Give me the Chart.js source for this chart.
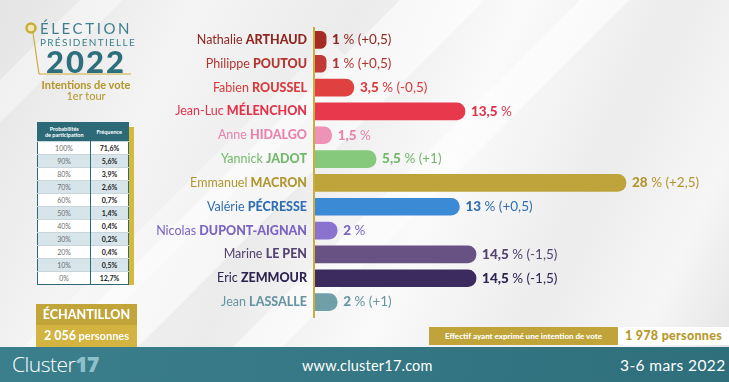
<!DOCTYPE html>
<html lang="fr">
<head>
<meta charset="utf-8">
<script src="https://cdn.jsdelivr.net/npm/chart.js@4.4.1/dist/chart.umd.min.js"></script>
<style>
  html,body{margin:0;padding:0;}
  body{width:729px;height:382px;overflow:hidden;position:relative;font-family:Lato,"Open Sans",sans-serif;
    background:linear-gradient(115deg,#e4e4e5 0%,#f4f4f4 22%,#ebebec 40%,#fafafa 58%,#ececed 75%,#f6f6f6 88%,#e2e2e3 100%);}
  .stripe{position:absolute;background:rgba(255,255,255,0.55);transform:rotate(45deg);transform-origin:0 0;}
  #c{position:absolute;left:0;top:0;z-index:2;}
  .abs{position:absolute;z-index:3;}
  #titleSvg{position:absolute;left:0;top:0;z-index:3;}
  .t1{left:40px;top:20px;width:92px;text-align:center;color:#3d7f8c;font-size:15px;letter-spacing:2.6px;line-height:17px;}
  .t2{left:40px;top:37px;width:92px;text-align:center;color:#3d7f8c;font-size:10px;letter-spacing:1.3px;line-height:11px;}
  .t3{left:38px;top:45px;width:96px;text-align:center;color:#2d6f7d;font-size:31px;font-weight:900;letter-spacing:2px;line-height:32px;}
  .t4{left:30px;top:79px;width:112px;text-align:center;color:#b39627;font-size:11px;font-weight:700;line-height:12px;}
  .t5{left:30px;top:90px;width:112px;text-align:center;color:#b39627;font-size:11px;line-height:11px;}
  #tblShadow{left:42px;top:127px;width:92px;height:158px;background:#d4b93e;}
  table{border-collapse:collapse;position:absolute;left:37px;top:122px;width:92px;z-index:4;background:#fff;border:1px solid #2d6a78;}
  th{background:#2d6a78;color:#fff;font-size:5.5px;font-weight:700;line-height:6.5px;height:18px;padding:0;}
  td{font-size:7px;height:12px;line-height:12px;padding:0;text-align:center;border-top:1px solid #c9d7dc;}
  td.p{color:#6d6d6d;border-right:1px solid #2d6a78;width:52px;}
  td.f{color:#222;font-weight:700;}
  tr.alt td{background:#d7e5ea;}
  .ech1{left:36px;top:304px;width:101px;height:21px;background:#c2a538;color:#fff;font-weight:900;font-size:12.5px;text-align:center;line-height:21px;}
  .ech2{left:36px;top:325px;width:101px;height:22px;background:#d4b440;color:#fff;font-weight:700;font-size:11px;text-align:center;line-height:22px;}
  .ech2 b{font-size:12.5px;font-weight:900;}
  .eff1{left:429px;top:327px;width:189px;height:18px;background:#c0a43a;color:#fff;font-weight:900;font-size:8px;text-align:center;line-height:18px;}
  .eff2{left:618px;top:327px;width:111px;height:18px;background:#fff;color:#b8992b;font-weight:900;font-size:12.5px;text-align:center;line-height:18px;letter-spacing:0.3px;}
  .footer{left:0;top:347px;width:729px;height:35px;background:linear-gradient(90deg,#3c7f8c 0%,#357784 50%,#2f6f7c 100%);}
  .logo{left:12px;top:350px;color:#fff;font-size:21px;font-weight:300;line-height:28px;font-family:"Open Sans",sans-serif;letter-spacing:-0.5px;}
  .logo b{color:#8ec2cb;font-weight:800;}
  .www{left:302px;top:356px;color:#fff;font-size:14.5px;line-height:20px;letter-spacing:0.2px;}
  .date{left:620px;top:355px;color:#fff;font-size:15.5px;line-height:20px;letter-spacing:0.4px;}
</style>
</head>
<body>
<div class="stripe" style="left:520px;top:-120px;width:60px;height:640px;"></div>
<div class="stripe" style="left:640px;top:-60px;width:35px;height:640px;"></div>
<div class="stripe" style="left:330px;top:40px;width:40px;height:500px;background:rgba(255,255,255,0.35)"></div>
<div class="stripe" style="left:120px;top:-40px;width:30px;height:400px;background:rgba(255,255,255,0.4)"></div>

<svg id="titleSvg" width="150" height="110">
  <line x1="33" y1="33" x2="39" y2="74" stroke="#c9ae3c" stroke-width="1.2"/>
  <line x1="39" y1="74" x2="131" y2="74" stroke="#c9ae3c" stroke-width="1.2"/>
  <circle cx="31" cy="28" r="4.5" fill="#f3e7b5" stroke="#c9ae3c" stroke-width="2.5"/>
</svg>
<div class="abs t1">ÉLECTION</div>
<div class="abs t2">PRÉSIDENTIELLE</div>
<div class="abs t3">2022</div>
<div class="abs t4">Intentions de vote</div>
<div class="abs t5">1er tour</div>

<div class="abs" id="tblShadow"></div>
<table id="tbl"></table>

<div class="abs ech1">ÉCHANTILLON</div>
<div class="abs ech2"><b>2 056</b> personnes</div>
<div class="abs eff1">Effectif ayant exprimé une intention de vote</div>
<div class="abs eff2">1 978 personnes</div>

<div class="abs footer"></div>
<div class="abs logo">Cluster<b>17</b></div>
<div class="abs www">www.cluster17.com</div>
<div class="abs date">3-6 mars 2022</div>

<canvas id="c" width="729" height="382"></canvas>

<script>
const firstNames = ["Nathalie","Philippe","Fabien","Jean-Luc","Anne","Yannick","Emmanuel","Valérie","Nicolas","Marine","Eric","Jean"];
const lastNames  = ["ARTHAUD","POUTOU","ROUSSEL","MÉLENCHON","HIDALGO","JADOT","MACRON","PÉCRESSE","DUPONT-AIGNAN","LE PEN","ZEMMOUR","LASSALLE"];
const values     = [1, 1, 3.5, 13.5, 1.5, 5.5, 28, 13, 2, 14.5, 14.5, 2];
const changes    = ["+0,5","+0,5","-0,5","","","+1","+2,5","+0,5","","-1,5","-1,5","+1"];
const barColors  = ["#a52c24","#c23a35","#e0403f","#e8384c","#ef92b7","#86c97c","#bea43b","#3b8ad5","#8a72cf","#675283","#3c2b5e","#6f9fa7"];
const textColors = ["#8e2720","#b13430","#d83b3b","#e1344a","#e882ac","#72b96a","#b0962f","#2f6fb2","#7b63c2","#54436f","#2f2350","#6796a0"];

const probabilities = ["100%","90%","80%","70%","60%","50%","40%","30%","20%","10%","0%"];
const frequencies   = ["71,6%","5,6%","3,9%","2,6%","0,7%","1,4%","0,4%","0,2%","0,4%","0,5%","12,7%"];

// table
(function(){
  const t = document.getElementById('tbl');
  let h = '<tr><th>Probabilités<br>de participation</th><th>Fréquence</th></tr>';
  probabilities.forEach((p,i)=>{
    h += '<tr class="'+(i%2===1?'alt':'')+'"><td class="p">'+p+'</td><td class="f">'+frequencies[i]+'</td></tr>';
  });
  t.innerHTML = h;
})();

const fmt = v => String(v).replace('.', ',');

const labelsPlugin = {
  id: 'labels',
  afterDatasetsDraw(chart){
    const ctx = chart.ctx;
    const meta = chart.getDatasetMeta(0);
    const area = chart.chartArea;
    ctx.save();
    // axis line
    ctx.strokeStyle = '#c9ae3c';
    ctx.lineWidth = 2;
    ctx.beginPath();
    ctx.moveTo(area.left - 1, 27);
    ctx.lineTo(area.left - 1, 318);
    ctx.stroke();
    ctx.textBaseline = 'middle';
    meta.data.forEach((bar, i) => {
      const y = bar.y;
      // category label
      const rightX = area.left - 8;
      ctx.fillStyle = textColors[i];
      ctx.font = '900 12.5px Lato';
      const lnW = ctx.measureText(lastNames[i]).width;
      ctx.textAlign = 'right';
      ctx.fillText(lastNames[i], rightX, y);
      ctx.font = '400 12.5px Lato';
      ctx.fillText(firstNames[i] + ' ', rightX - lnW, y);
      // value label
      let x = bar.x + 6;
      ctx.textAlign = 'left';
      ctx.font = '900 13.5px Lato';
      const vs = fmt(values[i]);
      ctx.fillText(vs, x, y);
      x += ctx.measureText(vs).width;
      ctx.font = '400 13.5px Lato';
      const rest = ' %' + (changes[i] ? ' (' + changes[i] + ')' : '');
      ctx.fillText(rest, x, y);
    });
    ctx.restore();
  }
};

new Chart(document.getElementById('c'), {
  type: 'bar',
  data: {
    labels: lastNames,
    datasets: [{
      data: values,
      backgroundColor: barColors,
      borderRadius: 9,
      borderSkipped: 'start',
      barThickness: 17
    }]
  },
  options: {
    indexAxis: 'y',
    responsive: false,
    animation: false,
    layout: { padding: { left: 315, right: 3, top: 28, bottom: 68 } },
    plugins: { legend: { display: false }, tooltip: { enabled: false } },
    scales: {
      x: { display: false, min: 0, max: 37 },
      y: { display: false }
    }
  },
  plugins: [labelsPlugin]
});
</script>
</body>
</html>
